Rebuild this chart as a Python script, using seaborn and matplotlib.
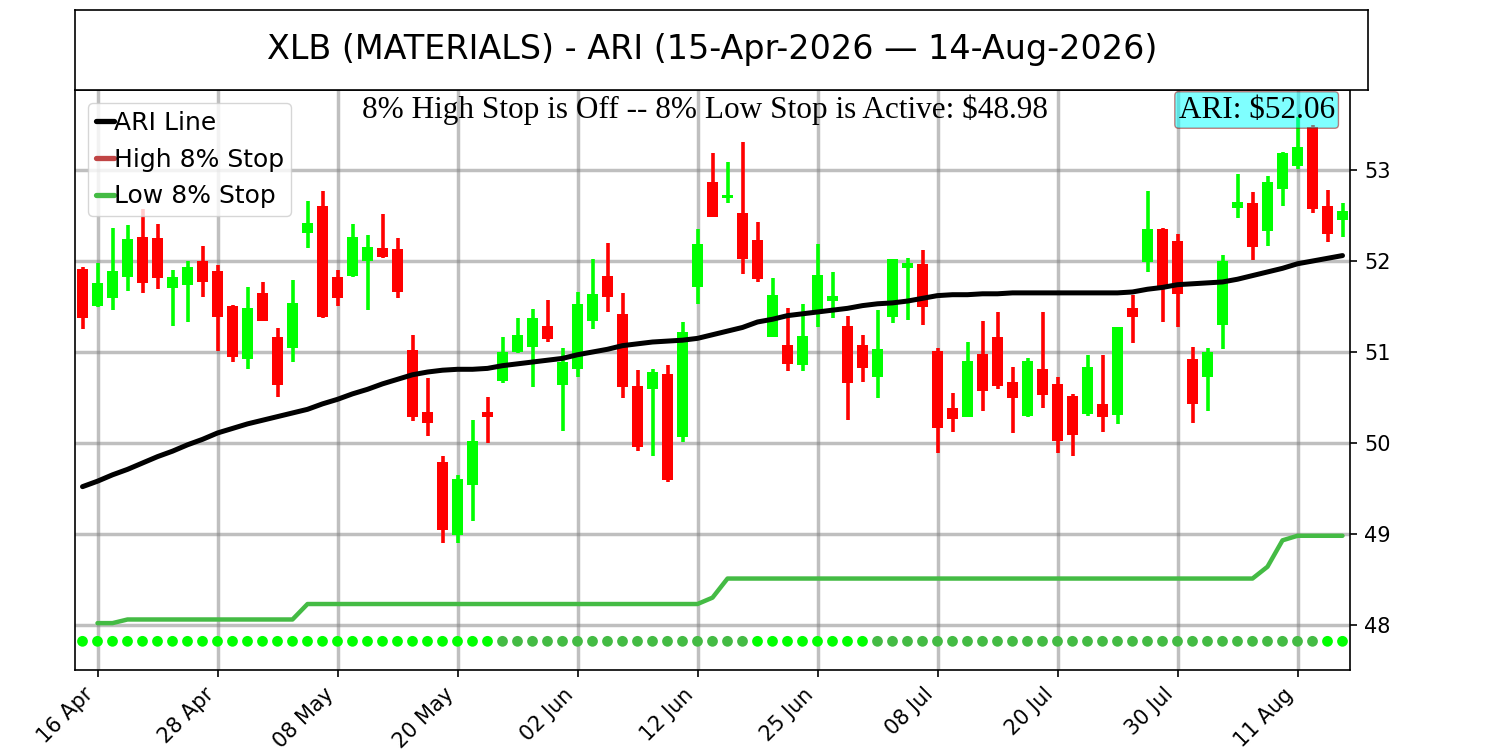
import numpy as np
import pandas as pd
import matplotlib
matplotlib.use("Agg")
import matplotlib.pyplot as plt
from matplotlib.lines import Line2D
import seaborn as sns

# ---------------- data ----------------
start_date = "2026-04-15"
end_date = "2026-08-14"
holidays = ["2026-05-25", "2026-06-19", "2026-07-03"]

opens = [51.91, 51.51, 51.59, 51.82, 52.26, 52.25, 51.70, 51.74, 52.00, 51.89,
         51.51, 50.92, 51.65, 51.16, 51.04, 52.31, 52.60, 51.82, 51.84, 52.00,
         52.14, 52.13, 51.02, 50.34, 49.79, 48.99, 49.54, 50.34, 50.68, 51.00,
         51.05, 51.29, 50.64, 50.81, 51.34, 51.84, 51.42, 50.63, 50.59, 50.76,
         50.07, 51.71, 52.87, 52.69, 52.53, 52.23, 51.16, 51.08, 50.86, 51.45,
         51.56, 51.29, 51.08, 50.73, 51.38, 51.92, 51.97, 51.01, 50.38, 50.29,
         50.98, 51.16, 50.67, 50.30, 50.81, 50.65, 50.52, 50.32, 50.43, 50.31,
         51.48, 51.99, 52.35, 52.22, 50.92, 50.73, 51.30, 52.58, 52.64, 52.33,
         52.79, 53.05, 53.47, 52.60, 52.45]
highs = [51.93, 51.98, 52.36, 52.40, 52.57, 52.41, 51.90, 52.00, 52.16, 51.96,
         51.52, 51.71, 51.77, 51.26, 51.79, 52.66, 52.77, 51.90, 52.41, 52.29,
         52.52, 52.25, 51.19, 50.71, 49.86, 49.65, 50.25, 50.51, 51.16, 51.37,
         51.47, 51.57, 51.04, 51.66, 52.02, 52.20, 51.65, 50.80, 50.81, 50.86,
         51.33, 52.35, 53.19, 53.09, 53.31, 52.43, 51.81, 51.48, 51.53, 52.19,
         51.88, 51.40, 51.19, 51.46, 52.02, 52.03, 52.12, 51.04, 50.55, 51.11,
         51.34, 51.44, 50.84, 50.93, 51.44, 50.73, 50.54, 50.97, 50.97, 51.27,
         51.63, 52.77, 52.36, 52.30, 51.05, 51.04, 52.07, 52.96, 52.76, 52.93,
         53.20, 53.58, 53.50, 52.78, 52.64]
lows = [51.25, 51.50, 51.46, 51.67, 51.65, 51.69, 51.29, 51.33, 51.60, 51.01,
        50.89, 50.81, 51.34, 50.51, 50.89, 52.14, 51.37, 51.51, 51.83, 51.46,
        52.03, 51.59, 50.24, 50.08, 48.90, 48.90, 49.14, 50.00, 50.66, 50.99,
        50.62, 51.11, 50.13, 50.73, 51.25, 51.44, 50.49, 49.91, 49.86, 49.57,
        50.01, 51.53, 52.48, 52.64, 51.86, 51.77, 51.16, 50.79, 50.79, 51.27,
        51.37, 50.25, 50.67, 50.49, 51.32, 51.35, 51.30, 49.89, 50.12, 50.29,
        50.35, 50.59, 50.11, 50.29, 50.38, 49.89, 49.86, 50.30, 50.12, 50.21,
        51.10, 51.88, 51.33, 51.27, 50.22, 50.35, 51.03, 52.47, 52.01, 52.16,
        52.60, 53.01, 52.53, 52.21, 52.26]
closes = [51.37, 51.76, 51.89, 52.24, 51.76, 51.81, 51.82, 51.93, 51.77, 51.38,
          50.95, 51.48, 51.34, 50.64, 51.54, 52.42, 51.38, 51.59, 52.26, 52.15,
          52.04, 51.66, 50.29, 50.22, 49.04, 49.60, 50.02, 50.29, 51.00, 51.19,
          51.37, 51.14, 50.89, 51.53, 51.64, 51.60, 50.62, 49.96, 50.78, 49.59,
          51.22, 52.19, 52.48, 52.73, 52.02, 51.80, 51.63, 50.87, 51.18, 51.85,
          51.62, 50.66, 50.82, 51.03, 52.02, 51.98, 51.49, 50.16, 50.26, 50.90,
          50.57, 50.63, 50.49, 50.90, 50.53, 50.02, 50.09, 50.84, 50.29, 51.27,
          51.38, 52.35, 51.73, 51.64, 50.43, 51.00, 52.00, 52.65, 52.15, 52.87,
          53.19, 53.25, 52.57, 52.30, 52.55]

ari_line = [49.52, 49.58, 49.65, 49.71, 49.78, 49.85, 49.91, 49.98, 50.04, 50.11,
            50.16, 50.21, 50.25, 50.29, 50.33, 50.37, 50.43, 50.48, 50.54, 50.59,
            50.65, 50.70, 50.75, 50.78, 50.80, 50.81, 50.81, 50.82, 50.85, 50.87,
            50.89, 50.91, 50.93, 50.97, 51.00, 51.03, 51.07, 51.09, 51.11, 51.12,
            51.13, 51.15, 51.19, 51.23, 51.27, 51.33, 51.36, 51.40, 51.42, 51.44,
            51.46, 51.48, 51.51, 51.53, 51.54, 51.56, 51.59, 51.62, 51.63, 51.63,
            51.64, 51.64, 51.65, 51.65, 51.65, 51.65, 51.65, 51.65, 51.65, 51.65,
            51.66, 51.69, 51.71, 51.74, 51.75, 51.76, 51.77, 51.80, 51.84, 51.88,
            51.92, 51.97, 52.00, 52.03, 52.06]

low_stop = [np.nan, 48.02, 48.02, 48.06, 48.06, 48.06, 48.06, 48.06, 48.06, 48.06,
            48.06, 48.06, 48.06, 48.06, 48.06, 48.23, 48.23, 48.23, 48.23, 48.23,
            48.23, 48.23, 48.23, 48.23, 48.23, 48.23, 48.23, 48.23, 48.23, 48.23,
            48.23, 48.23, 48.23, 48.23, 48.23, 48.23, 48.23, 48.23, 48.23, 48.23,
            48.23, 48.23, 48.30, 48.51, 48.51, 48.51, 48.51, 48.51, 48.51, 48.51,
            48.51, 48.51, 48.51, 48.51, 48.51, 48.51, 48.51, 48.51, 48.51, 48.51,
            48.51, 48.51, 48.51, 48.51, 48.51, 48.51, 48.51, 48.51, 48.51, 48.51,
            48.51, 48.51, 48.51, 48.51, 48.51, 48.51, 48.51, 48.51, 48.51, 48.64,
            48.93, 48.98, 48.98, 48.98, 48.98]

# 1 = bright state dot, 0 = dim state dot
dot_state = [1, 1, 1, 1, 1, 1, 1, 1, 1, 1, 1, 1, 1, 1, 1, 1, 1, 1, 1, 1,
             1, 1, 1, 1, 1, 1, 1, 1, 0, 0, 0, 0, 0, 0, 0, 0, 0, 0, 0, 0,
             0, 0, 0, 0, 0, 1, 1, 1, 1, 1, 1, 1, 1, 0, 0, 0, 0, 0, 0, 0,
             0, 0, 0, 0, 0, 0, 0, 0, 0, 0, 0, 0, 0, 0, 0, 0, 0, 0, 0, 0,
             0, 0, 0, 1, 1]
dot_level = 47.82

title_text = "XLB (MATERIALS) - ARI (15-Apr-2026 \u2014 14-Aug-2026)"
status_text = "8% High Stop is Off -- 8% Low Stop is Active: $48.98"
ari_label = "ARI: $52.06"
legend_labels = ["ARI Line", "High 8% Stop", "Low 8% Stop"]
y_ticks = [48, 49, 50, 51, 52, 53]

# ---------------- derived ----------------
dates = pd.bdate_range(start_date, end_date)
dates = dates[~dates.isin(pd.to_datetime(holidays))]
n = len(opens)
idx = np.arange(n)
df = pd.DataFrame({"i": idx, "open": opens, "high": highs, "low": lows,
                   "close": closes, "ari": ari_line, "low_stop": low_stop,
                   "dot": dot_state})
df["up"] = df["close"] >= df["open"]

# ---------------- style ----------------
sns.set_style("white")
plt.rcParams["font.family"] = ["DejaVu Sans"]
plt.rcParams["text.color"] = "black"
plt.rcParams["xtick.color"] = "black"
plt.rcParams["ytick.color"] = "black"
plt.rcParams["axes.labelcolor"] = "black"

fig = plt.figure(figsize=(15, 7.5), dpi=100)
ax = fig.add_axes([0.05, 0.1067, 0.85, 0.7733])
tax = fig.add_axes([0.05, 0.88, 0.862, 0.1067])

# title box
tax.set_xticks([])
tax.set_yticks([])
for s in tax.spines.values():
    s.set_color("black")
    s.set_linewidth(1.2)
fig.text(0.475, 0.9335, title_text, ha="center", va="center", fontsize=24,
         color="black")

# grid
ax.set_axisbelow(True)
ax.grid(True, color="gray", alpha=0.5, linewidth=2.5)

# candles
col_up = "#00ff00"
col_dn = "#ff0000"
colors = np.where(df["up"], col_up, col_dn)
ax.vlines(df["i"], df["low"], df["high"], colors=colors, linewidth=2.6, zorder=3)
body_bottom = np.minimum(df["open"], df["close"])
body_h = np.abs(df["close"] - df["open"])
body_h = np.maximum(body_h, 0.03)
ax.bar(df["i"], body_h, bottom=body_bottom, width=0.72, color=colors,
       linewidth=0, zorder=3)

# lines
sns.lineplot(data=df, x="i", y="ari", ax=ax, color="black", linewidth=3.6,
             zorder=4, legend=False)
sns.lineplot(data=df.dropna(subset=["low_stop"]), x="i", y="low_stop", ax=ax,
             color="#44bb44", linewidth=3.2, zorder=4, legend=False)

# dots
df["dot_y"] = dot_level
sns.scatterplot(data=df, x="i", y="dot_y", hue="dot", ax=ax,
                palette={1: "#00ff00", 0: "#44bb44"}, s=60, linewidth=0,
                legend=False, zorder=4)

ax.set_xlim(-0.5, 84.5)
ax.set_ylim(47.505, 53.88)
ax.set_xlabel("")
ax.set_ylabel("")

ax.yaxis.tick_right()
ax.set_yticks(y_ticks)
ax.set_yticklabels([str(v) for v in y_ticks], fontsize=15)
tick_pos = idx[1::8]
ax.set_xticks(tick_pos)
ax.set_xticklabels([dates[i].strftime("%d %b") for i in tick_pos],
                   rotation=45, ha="right", fontsize=15)
ax.tick_params(axis="both", direction="out", length=5.25, width=1.2, pad=5,
               left=False, right=True, bottom=True, colors="black")
for s in ax.spines.values():
    s.set_color("black")
    s.set_linewidth(1.2)

# annotations
serif = ["Liberation Serif", "DejaVu Serif"]
ax.text(0.494, 0.9655, status_text, transform=ax.transAxes, ha="center",
        va="center", fontsize=22.5, family=serif, color="black")
ax.text(0.988, 0.9655, ari_label, transform=ax.transAxes, ha="right",
        va="center", fontsize=22.5, family=serif, color="black",
        bbox=dict(boxstyle="round,pad=0.12", facecolor="#00ffff", alpha=0.5,
                  edgecolor="#a00000"), zorder=6)

handles = [Line2D([0], [0], color="black", lw=3.8),
           Line2D([0], [0], color="#c04545", lw=3.8),
           Line2D([0], [0], color="#44bb44", lw=3.8)]
leg = ax.legend(handles, legend_labels, loc="upper left", fontsize=18,
                handlelength=0.72, handletextpad=0.0, labelspacing=0.52,
                borderaxespad=0.52, borderpad=0.3, framealpha=0.8)
leg.set_zorder(7)

fig.savefig("out.png", dpi=100)
